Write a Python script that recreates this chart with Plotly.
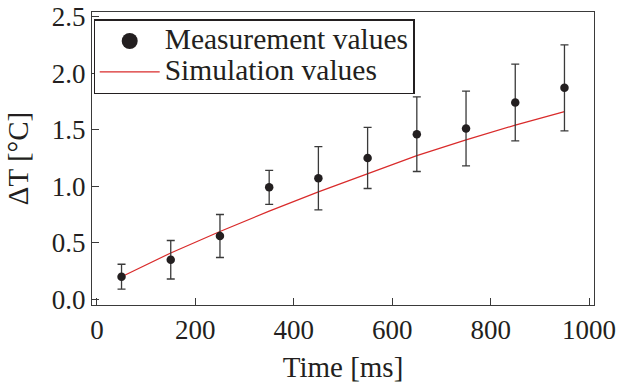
import plotly.graph_objects as go

time_ms = [50, 150, 250, 350, 450, 550, 650, 750, 850, 950]
measured = [0.20, 0.35, 0.56, 0.99, 1.07, 1.25, 1.46, 1.51, 1.74, 1.87]
errors = [0.11, 0.17, 0.19, 0.15, 0.28, 0.27, 0.33, 0.33, 0.34, 0.38]
simulated = [0.20, 0.41, 0.60, 0.78, 0.95, 1.11, 1.27, 1.41, 1.54, 1.66]

txt = "#231f20"
fam = "Liberation Serif, Times New Roman, serif"
tick_font = dict(family=fam, size=27, color=txt)
title_font = dict(family=fam, size=29, color=txt)
legend_font = dict(family=fam, size=21.5, color=txt)


def big(s):
    return '<span style="font-size:29.5px">' + s + '</span>'


fig = go.Figure()
fig.add_trace(go.Scatter(
    x=[None], y=[None], mode="markers", name=big("Measurement values"),
    marker=dict(color="#231f20", size=16),
))
fig.add_trace(go.Scatter(
    x=time_ms, y=simulated, mode="lines", name=big("Simulation values"),
    line=dict(color="#d92b2b", width=1.2),
))
fig.add_trace(go.Scatter(
    x=time_ms, y=measured, mode="markers", name="Measurement values",
    showlegend=False,
    marker=dict(color="#231f20", size=8.5),
    error_y=dict(type="data", array=errors, visible=True, color="#3a3a3a",
                 thickness=1.3, width=4),
))

axis_common = dict(
    showline=True, linecolor="#3a3a3a", linewidth=1.2, mirror=True,
    ticks="inside", ticklen=7, tickcolor="#3a3a3a", tickwidth=1.2,
    showgrid=False, zeroline=False, tickfont=tick_font, automargin=False,
)
fig.update_xaxes(range=[-10, 1010], tickvals=[0, 200, 400, 600, 800, 1000],
                 title=dict(text="Time [ms]", font=title_font, standoff=13), **axis_common)
fig.update_yaxes(range=[-0.05, 2.54], tickvals=[0, 0.5, 1.0, 1.5, 2.0, 2.5],
                 tickformat=".1f",
                 title=dict(text="ΔT [°C]", font=title_font, standoff=14), **axis_common)

fig.update_layout(
    width=618, height=383,
    margin=dict(l=92, r=24, t=12, b=78, autoexpand=False),
    plot_bgcolor="white", paper_bgcolor="white",
    font=tick_font,
    showlegend=True,
    legend=dict(
        x=0.003, y=0.975, xanchor="left", yanchor="top",
        bgcolor="white", bordercolor="#231f20", borderwidth=1.2,
        font=legend_font, itemsizing="trace", itemwidth=60,
        tracegroupgap=0, indentation=0,
    ),
)
fig.write_html("out.html")
